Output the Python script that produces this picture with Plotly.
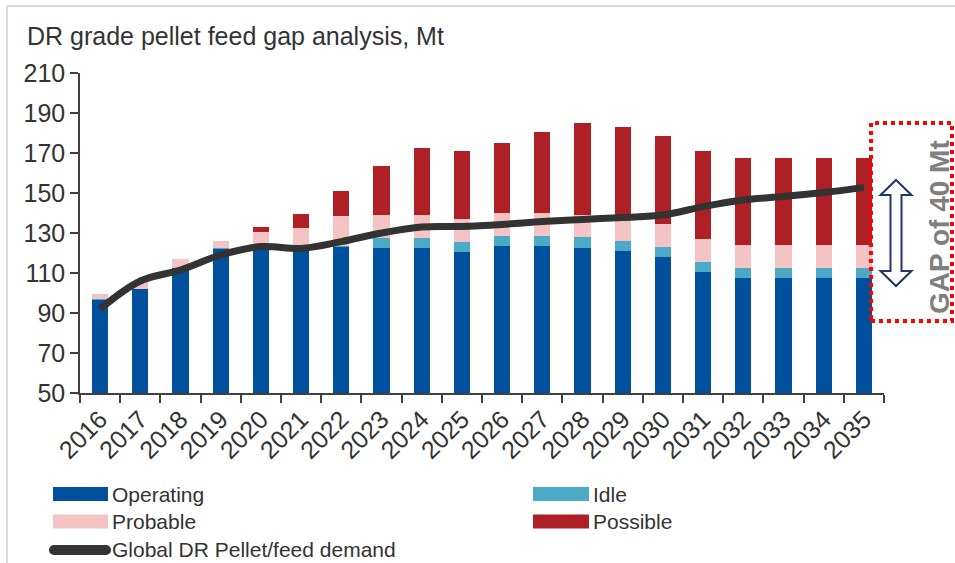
import plotly.graph_objects as go

years = [str(y) for y in range(2016, 2036)]
operating = [96.5, 102, 112.5, 122, 122, 121.5, 123, 122.5, 122.5, 120.5,
             123.5, 123.5, 122.5, 121, 118, 110.5, 107.5, 107.5, 107.5, 107.5]
idle = [0.7, 0, 0, 0.5, 0, 0, 0.5, 4.8, 5.2, 4.8,
        5, 5, 5.5, 5, 5.2, 5, 5, 5, 5, 5]
probable = [2.3, 3.5, 4.3, 3.7, 8.5, 10.8, 15.2, 11.7, 11.3, 11.5,
            11.3, 11.3, 11, 11, 11.3, 11.3, 11.5, 11.5, 11.5, 11.5]
possible = [0, 0, 0, 0, 2.5, 7.2, 12.5, 24.3, 33.3, 34.4,
            35, 40.5, 45.8, 45.8, 44.2, 44.2, 43.7, 43.7, 43.7, 43.7]
demand = [92, 106, 111.5, 119, 123.2, 122.3, 125.7, 130, 133, 133.3,
          134.3, 135.7, 136.8, 137.8, 139, 143.2, 146.5, 148.2, 150.2, 152.8]

names = ["Operating", "Idle", "Probable", "Possible", "Global DR Pellet/feed demand"]
colors = ["#00509E", "#4BAAC6", "#F4C3C4", "#AE2023", "#333333"]
title_text = "DR grade pellet feed gap analysis, Mt"
gap_text = "GAP of 40 Mt"
y_ticks = list(range(50, 211, 20))

FONT = "Liberation Sans, Arial, sans-serif"
TXT = "#333333"
FS = 25
LFS = 21

W, H = 955, 563
L, R, T, B = 80, 71, 73, 170
PW, PH = W - L - R, H - T - B


def px(x):
    return (x - L) / PW


def py(y):
    return (H - B - y) / PH


fig = go.Figure()
for vals, nm, col in zip([operating, idle, probable, possible], names[:4], colors[:4]):
    fig.add_trace(go.Bar(x=years, y=vals, name=nm, marker=dict(color=col, line=dict(width=0)),
                         width=0.4, showlegend=False))
fig.add_trace(go.Scatter(x=years, y=demand, name=names[4], mode="lines",
                         line=dict(color=colors[4], width=7, shape="spline", smoothing=1.0),
                         showlegend=False))

shapes = []
annotations = []

# title
annotations.append(dict(text=title_text, xref="paper", yref="paper", x=px(25), y=py(36),
                        xanchor="left", yanchor="middle", showarrow=False,
                        font=dict(family=FONT, size=FS, color=TXT)))

# custom legend (row centres 494, 521.5, 549)
leg = [
    (0, 53, 108, 494),
    (1, 533, 589, 494),
    (2, 53, 108, 521.5),
    (3, 533, 589, 521.5),
]
for idx, x0, x1, yc in leg:
    shapes.append(dict(type="rect", xref="paper", yref="paper", x0=px(x0), x1=px(x1),
                       y0=py(yc + 7), y1=py(yc - 7), fillcolor=colors[idx], line=dict(width=0)))
    annotations.append(dict(text=names[idx], xref="paper", yref="paper", x=px(x1 + 3),
                            y=py(yc), xanchor="left", yanchor="middle",
                            showarrow=False, borderpad=0,
                            font=dict(family=FONT, size=LFS, color=TXT)))
# line legend entry (rounded thick line)
ly = 550
shapes.append(dict(type="line", xref="paper", yref="paper", x0=px(54), x1=px(106),
                   y0=py(ly), y1=py(ly), line=dict(color=colors[4], width=10)))
shapes.append(dict(type="circle", xref="paper", yref="paper", x0=px(49), x1=px(59),
                   y0=py(ly + 5), y1=py(ly - 5), fillcolor=colors[4], line=dict(width=0)))
shapes.append(dict(type="circle", xref="paper", yref="paper", x0=px(101), x1=px(111),
                   y0=py(ly + 5), y1=py(ly - 5), fillcolor=colors[4], line=dict(width=0)))
annotations.append(dict(text=names[4], xref="paper", yref="paper", x=px(111), y=py(549),
                        xanchor="left", yanchor="middle", showarrow=False, borderpad=0,
                        font=dict(family=FONT, size=LFS, color=TXT)))

# red dotted box
shapes.append(dict(type="rect", xref="paper", yref="paper", x0=px(871), x1=px(952),
                   y0=py(321), y1=py(123), line=dict(color="#FF0000", width=4, dash="dot"),
                   fillcolor="rgba(0,0,0,0)"))

# hollow double arrow
cx = 896
pts = [(cx, 180), (cx + 15.5, 195), (cx + 5.5, 195), (cx + 5.5, 271), (cx + 15.5, 271),
       (cx, 286), (cx - 15.5, 271), (cx - 5.5, 271), (cx - 5.5, 195), (cx - 15.5, 195)]
path = "M " + " L ".join(f"{px(a):.5f},{py(b):.5f}" for a, b in pts) + " Z"
shapes.append(dict(type="path", xref="paper", yref="paper", path=path,
                   line=dict(color="#1F3864", width=2), fillcolor="white"))

annotations.append(dict(text="<b>" + gap_text + "</b>", xref="paper", yref="paper",
                        x=px(939), y=py(227), xanchor="center", yanchor="middle",
                        textangle=-90, showarrow=False,
                        font=dict(family=FONT, size=28, color="#7F7F7F")))

# light frame
shapes.append(dict(type="line", xref="paper", yref="paper", x0=px(7), x1=px(955),
                   y0=py(6), y1=py(6), line=dict(color="#CFCFCF", width=1.5)))
shapes.append(dict(type="line", xref="paper", yref="paper", x0=px(7), x1=px(7),
                   y0=py(6), y1=py(563), line=dict(color="#CFCFCF", width=1.5)))

fig.update_layout(
    width=W, height=H,
    margin=dict(l=L, r=R, t=T, b=B, autoexpand=False),
    barmode="stack",
    plot_bgcolor="white", paper_bgcolor="white",
    showlegend=False,
    shapes=shapes, annotations=annotations,
    font=dict(family=FONT, color=TXT),
)
fig.update_xaxes(type="category", tickangle=-45, tickson="boundaries", ticks="outside",
                 ticklen=8, tickwidth=1.5, tickcolor="#404040", showline=True,
                 linecolor="#404040", linewidth=1.5, showgrid=False,
                 tickfont=dict(family=FONT, size=FS, color=TXT))
fig.update_yaxes(range=[50, 210], tickvals=y_ticks, ticks="outside", ticklen=8,
                 tickwidth=1.5, tickcolor="#404040", showline=True, linecolor="#404040",
                 linewidth=1.5, showgrid=False, zeroline=False,
                 tickfont=dict(family=FONT, size=FS, color=TXT))

fig.write_html("out.html", config={"displayModeBar": False},
               post_script="document.body.style.margin='0';document.body.style.overflow='hidden';")
